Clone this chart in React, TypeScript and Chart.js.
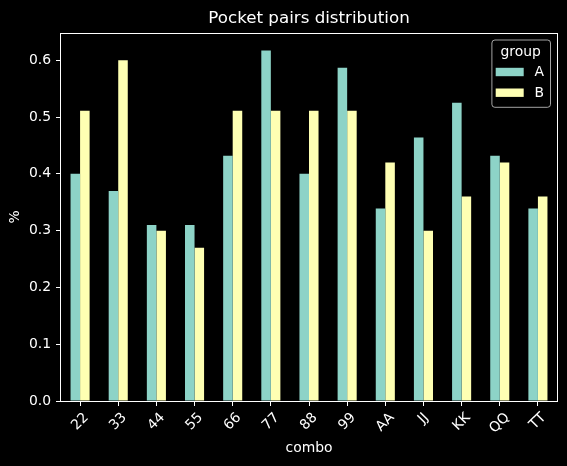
import React, { useEffect, useRef } from "react";
import { Chart, registerables } from "chart.js";

Chart.register(...registerables);

const categories = ["22", "33", "44", "55", "66", "77", "88", "99", "AA", "JJ", "KK", "QQ", "TT"];
const seriesA = [0.4, 0.37, 0.31, 0.31, 0.432, 0.617, 0.4, 0.587, 0.339, 0.464, 0.525, 0.432, 0.339];
const seriesB = [0.511, 0.6, 0.3, 0.27, 0.511, 0.511, 0.511, 0.511, 0.42, 0.3, 0.36, 0.42, 0.36];
const seriesNames = ["A", "B"];
const seriesColors = ["#8dd3c7", "#feffb3"];
const yTicks = [0, 0.1, 0.2, 0.3, 0.4, 0.5, 0.6];
const titleText = "Pocket pairs distribution";
const xTitle = "combo";
const yTitle = "%";
const legendTitle = "group";

const FONT = "'DejaVu Sans', 'Liberation Sans', sans-serif";
const FS = 13.9;

const customPlugin = {
  id: "mplLook",
  beforeDraw(chart: any) {
    const ctx = chart.ctx;
    ctx.save();
    ctx.fillStyle = "#000";
    ctx.fillRect(0, 0, chart.width, chart.height);
    ctx.restore();
  },
  afterDraw(chart: any) {
    const ctx = chart.ctx;
    const area = chart.chartArea;
    const xScale = chart.scales.x;
    ctx.save();
    // frame (spines)
    ctx.strokeStyle = "#fff";
    ctx.lineWidth = 1;
    ctx.strokeRect(Math.round(area.left) - 0.5, Math.round(area.top) + 0.5, Math.round(area.right - area.left) + 1, Math.round(area.bottom - area.top));

    // title
    ctx.fillStyle = "#fff";
    ctx.font = `16.7px ${FONT}`;
    ctx.textAlign = "center";
    ctx.textBaseline = "alphabetic";
    ctx.fillText(titleText, (area.left + area.right) / 2, 22.5);

    // x tick labels rotated 45, centered (matplotlib style)
    ctx.font = `${FS}px ${FONT}`;
    const y0 = area.bottom + 9.8;
    categories.forEach((lab, i) => {
      const x = xScale.getPixelForValue(i);
      const w = ctx.measureText(lab).width;
      const h = 0.95 * FS;
      const cy = y0 + (w + h) * 0.35355;
      ctx.save();
      ctx.translate(x, cy);
      ctx.rotate(-Math.PI / 4);
      ctx.textAlign = "center";
      ctx.textBaseline = "middle";
      ctx.fillText(lab, 0, 0);
      ctx.restore();
    });

    // legend
    const bw = 58.6;
    const bh = 67.3;
    const bx = area.right - 7 - bw;
    const by = area.top + 6.5;
    ctx.beginPath();
    if ((ctx as any).roundRect) {
      (ctx as any).roundRect(bx + 0.5, by + 0.5, bw, bh, 3);
    } else {
      ctx.rect(bx + 0.5, by + 0.5, bw, bh);
    }
    ctx.fillStyle = "rgba(0,0,0,0.8)";
    ctx.fill();
    ctx.strokeStyle = "rgba(204,204,204,0.8)";
    ctx.lineWidth = 1;
    ctx.stroke();

    ctx.fillStyle = "#fff";
    ctx.font = `${FS}px ${FONT}`;
    ctx.textAlign = "center";
    ctx.textBaseline = "middle";
    ctx.fillText(legendTitle, bx + bw / 2, by + 12.5);
    seriesNames.forEach((name, i) => {
      const py = by + 28.3 + i * 20.7;
      ctx.fillStyle = seriesColors[i];
      ctx.fillRect(bx + 4.3, py, 28, 8.4);
      ctx.fillStyle = "#fff";
      ctx.textAlign = "left";
      ctx.textBaseline = "middle";
      ctx.fillText(name, bx + 43, py + 4.4);
    });
    ctx.restore();
  },
};

export default function App() {
  const ref = useRef<HTMLCanvasElement | null>(null);
  useEffect(() => {
    document.body.style.margin = "0";
    document.body.style.background = "#000";
    const canvas = ref.current;
    if (!canvas) return;
    const chart = new Chart(canvas, {
      type: "bar",
      data: {
        labels: categories,
        datasets: [
          {
            label: seriesNames[0],
            data: seriesA,
            backgroundColor: seriesColors[0],
            borderWidth: 0,
            categoryPercentage: 0.5,
            barPercentage: 1.0,
          },
          {
            label: seriesNames[1],
            data: seriesB,
            backgroundColor: seriesColors[1],
            borderWidth: 0,
            categoryPercentage: 0.5,
            barPercentage: 1.0,
          },
        ],
      },
      options: {
        responsive: false,
        animation: false,
        maintainAspectRatio: false,
        layout: { padding: { top: 33, right: 10, left: 0, bottom: 0 } },
        plugins: {
          legend: { display: false },
          title: { display: false },
          tooltip: { enabled: false },
        },
        scales: {
          x: {
            type: "category",
            offset: true,
            grid: {
              display: true,
              offset: false,
              drawOnChartArea: false,
              drawTicks: true,
              tickLength: 5,
              color: "#fff",
              lineWidth: 1,
            },
            border: { display: false },
            ticks: { display: false },
            title: {
              display: true,
              text: xTitle,
              color: "#fff",
              font: { family: FONT, size: FS },
              padding: { top: 0, bottom: 9.4 },
            },
            afterFit(scale: any) {
              scale.height = 65;
            },
          },
          y: {
            type: "linear",
            min: 0,
            max: 0.648,
            grid: {
              display: true,
              drawOnChartArea: false,
              drawTicks: true,
              tickLength: 5,
              color: "#fff",
              lineWidth: 1,
            },
            border: { display: false },
            ticks: {
              includeBounds: false,
              color: "#fff",
              font: { family: FONT, size: FS },
              padding: 5,
              callback: (v: any) => Number(v).toFixed(1),
            },
            afterBuildTicks(scale: any) {
              scale.ticks = yTicks.map((v) => ({ value: v }));
            },
            title: {
              display: true,
              text: yTitle,
              color: "#fff",
              font: { family: FONT, size: FS },
              padding: { top: 7, bottom: 0 },
            },
            afterFit(scale: any) {
              scale.width = 61;
            },
          },
        },
      },
      plugins: [customPlugin],
    } as any);
    return () => chart.destroy();
  }, []);
  return (
    <div style={{ position: "absolute", left: 0, top: 0, width: 567, height: 466, background: "#000" }}>
      <canvas ref={ref} width={567} height={466} style={{ display: "block", width: 567, height: 466 }} />
    </div>
  );
}
